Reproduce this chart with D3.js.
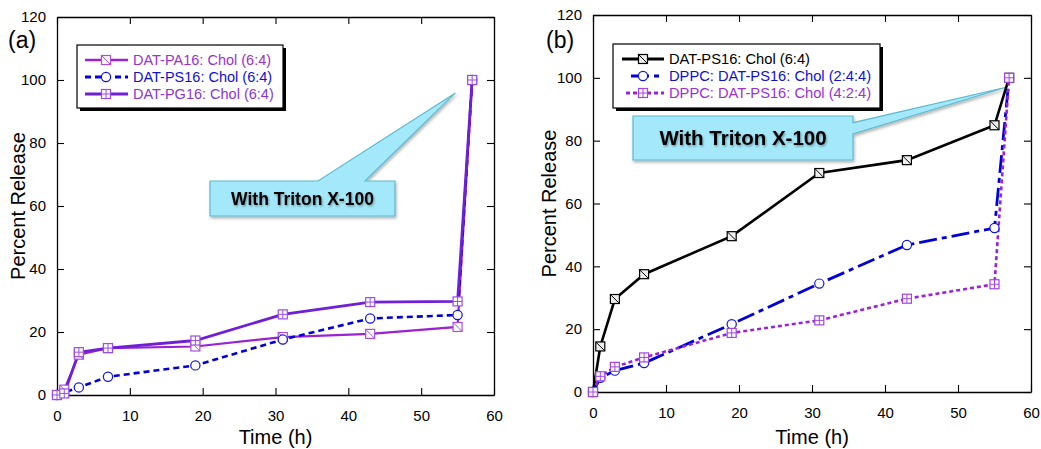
<!DOCTYPE html>
<html>
<head>
<meta charset="utf-8">
<script src="https://cdn.jsdelivr.net/npm/d3@7"></script>
<style>
  body { margin: 0; background: #fff; }
  text { font-family: "Liberation Sans", Arial, sans-serif; }
</style>
</head>
<body>
<svg id="chart" width="1041" height="449"></svg>
<script>
// time points (h)
var timeA = [0, 1, 3, 7, 19, 31, 43, 55, 57];
var timeA_PS = [0, 3, 7, 19, 31, 43, 55, 57];
var timeB = [0, 1, 3, 7, 19, 31, 43, 55, 57];

// panel (a) percent release
var pa16 = [0, 1.7, 12.8, 14.9, 15.4, 18.4, 19.4, 21.6, 100];
var ps16 = [0, 2.4, 5.8, 9.4, 17.6, 24.3, 25.4, 100];
var pg16 = [0, 0.5, 13.6, 14.9, 17.3, 25.6, 29.5, 29.7, 100];

// panel (b) percent release
var datPS16 = [0, 14.5, 29.6, 37.5, 49.6, 69.7, 73.8, 84.9, 100];
var dppc244 = [0, 4.5, 6.8, 9.2, 21.6, 34.5, 46.8, 52.2, 100];
var dppc424 = [0, 5.0, 8.0, 11.0, 18.8, 22.8, 29.7, 34.3, 100];

var xTicks = [0, 10, 20, 30, 40, 50, 60];
var yTicks = [0, 20, 40, 60, 80, 100, 120];

var svg = d3.select("#chart");

function zip(xs, ys) {
  return xs.map(function(x, i) { return {x: x, y: ys[i]}; });
}

function drawMarker(g, type, cx, cy, color, fill) {
  var s = 4.5;
  if (type === "circle") {
    g.append("circle").attr("cx", cx).attr("cy", cy).attr("r", 4.6)
      .attr("fill", "#fff").attr("stroke", color).attr("stroke-width", 1.2);
    return;
  }
  g.append("rect").attr("x", cx - s).attr("y", cy - s).attr("width", 2 * s).attr("height", 2 * s)
    .attr("fill", fill || "#fff").attr("stroke", color).attr("stroke-width", 1.2);
  if (type === "diag") {
    g.append("line").attr("x1", cx - s).attr("y1", cy - s).attr("x2", cx + s).attr("y2", cy + s)
      .attr("stroke", color).attr("stroke-width", 1);
  } else if (type === "plus") {
    g.append("line").attr("x1", cx).attr("y1", cy - s).attr("x2", cx).attr("y2", cy + s)
      .attr("stroke", color).attr("stroke-width", 1);
    g.append("line").attr("x1", cx - s).attr("y1", cy).attr("x2", cx + s).attr("y2", cy)
      .attr("stroke", color).attr("stroke-width", 1);
  }
}

function drawPanel(p) {
  var x = d3.scaleLinear().domain([0, 60]).range([p.left, p.right]);
  var y = d3.scaleLinear().domain([0, 120]).range([p.bottom, p.top]);
  var g = svg.append("g");

  // axes with inward ticks on all four sides
  g.append("g").attr("transform", "translate(" + p.left + ",0)")
    .call(d3.axisLeft(y).tickValues(yTicks).tickSizeInner(-7).tickSizeOuter(0).tickPadding(11));
  g.append("g").attr("transform", "translate(0," + p.bottom + ")")
    .call(d3.axisBottom(x).tickValues(xTicks).tickSizeInner(-7).tickSizeOuter(0).tickPadding(15));
  g.append("g").attr("transform", "translate(" + p.right + ",0)")
    .call(d3.axisRight(y).tickValues(yTicks).tickSizeInner(-7).tickSizeOuter(0).tickFormat(""));
  g.append("g").attr("transform", "translate(0," + p.top + ")")
    .call(d3.axisTop(x).tickValues(xTicks).tickSizeInner(-7).tickSizeOuter(0).tickFormat(""));
  g.selectAll(".domain").attr("stroke", "#000").attr("stroke-width", 1.3);
  g.selectAll(".tick line").attr("stroke", "#000").attr("stroke-width", 1.1);
  g.selectAll(".tick text").attr("fill", "#000").style("font-size", "15px")
    .style("font-family", "'Liberation Sans', Arial, sans-serif");

  // labels
  g.append("text").attr("x", (p.left + p.right) / 2).attr("y", 444)
    .attr("text-anchor", "middle").style("font-size", "20px").text("Time (h)");
  g.append("text").attr("transform", "translate(" + p.yLabelX + "," + ((p.top + p.bottom) / 2) + ") rotate(-90)")
    .attr("text-anchor", "middle").style("font-size", "20px").text("Percent Release");
  g.append("text").attr("x", p.tagX).attr("y", 48)
    .style("font-size", "23px").text(p.tag);

  // callout
  var tip = [x(p.tip[0]), y(p.tip[1])];
  var b = p.box;
  var pts;
  if (p.pointerSide === "top") {
    pts = [[b.x0, b.y0], [p.base[0], b.y0], tip, [p.base[1], b.y0], [b.x1, b.y0], [b.x1, b.y1], [b.x0, b.y1]];
  } else {
    pts = [[b.x0, b.y0], [b.x1, b.y0], [b.x1, p.base[0]], tip, [b.x1, p.base[1]], [b.x1, b.y1], [b.x0, b.y1]];
  }
  g.append("path").attr("d", "M" + pts.join("L") + "Z")
    .attr("fill", "#a4e9fb").attr("stroke", "#5cb9cf").attr("stroke-width", 1.2)
    .attr("filter", "url(#shadow)");
  g.append("text").attr("x", (b.x0 + b.x1) / 2).attr("y", (b.y0 + b.y1) / 2 + p.calloutSize * 0.36)
    .attr("text-anchor", "middle").style("font-size", p.calloutSize + "px").style("font-weight", "bold")
    .attr("filter", "url(#tshadow)").text("With Triton X-100");

  // series
  p.series.forEach(function(s) {
    var pts = zip(s.xs, s.ys);
    g.append("path").datum(pts)
      .attr("d", d3.line().x(function(d) { return x(d.x); }).y(function(d) { return y(d.y); }))
      .attr("fill", "none").attr("stroke", s.color).attr("stroke-width", s.width)
      .attr("stroke-dasharray", s.dash || null);
  });
  p.series.forEach(function(s) {
    zip(s.xs, s.ys).forEach(function(d) {
      drawMarker(g, s.marker, x(d.x), y(d.y), s.mcolor, s.mfill);
    });
  });

  // legend
  var L = p.legend;
  g.append("rect").attr("x", L.x + 3).attr("y", L.y + 3).attr("width", L.w).attr("height", L.h).attr("fill", "#000");
  g.append("rect").attr("x", L.x).attr("y", L.y).attr("width", L.w).attr("height", L.h)
    .attr("fill", "#fff").attr("stroke", "#000").attr("stroke-width", 1.2);
  p.series.forEach(function(s, i) {
    var ry = L.y + 15 + i * 17;
    g.append("line").attr("x1", s.legX0).attr("x2", L.lineX1).attr("y1", ry).attr("y2", ry)
      .attr("stroke", s.color).attr("stroke-width", s.width + 0.4).attr("stroke-dasharray", s.dash || null);
    drawMarker(g, s.marker, L.markX, ry, s.mcolor, s.mfill);
    g.append("text").attr("x", L.textX).attr("y", ry + 5).attr("fill", s.tcolor)
      .style("font-size", L.size + "px").text(s.name);
  });
}

var defs = svg.append("defs");
var f = defs.append("filter").attr("id", "shadow").attr("x", "-10%").attr("y", "-10%").attr("width", "130%").attr("height", "140%");
f.append("feDropShadow").attr("dx", 1).attr("dy", 2).attr("stdDeviation", 1.5).attr("flood-color", "#000").attr("flood-opacity", 0.3);
var tf = defs.append("filter").attr("id", "tshadow").attr("x", "-10%").attr("y", "-30%").attr("width", "130%").attr("height", "170%");
tf.append("feDropShadow").attr("dx", 1).attr("dy", 1.5).attr("stdDeviation", 1).attr("flood-color", "#000").attr("flood-opacity", 0.35);

drawPanel({
  left: 57, right: 494, top: 17, bottom: 395, yLabelX: 25, tagX: 8, tag: "(a)",
  tip: [54.7, 95.9], pointerSide: "top", base: [318, 365],
  box: {x0: 210, y0: 181, x1: 395, y1: 216}, calloutSize: 17.5,
  legend: {x: 77, y: 45, w: 206, h: 63, lineX1: 128, markX: 106, textX: 133, size: 14.5},
  series: [
    {name: "DAT-PA16: Chol (6:4)", xs: timeA, ys: pa16, color: "#9b22d2", width: 2.2, marker: "diag",
     mcolor: "#a94ee0", tcolor: "#9b30d0", legX0: 85},
    {name: "DAT-PS16: Chol (6:4)", xs: timeA_PS, ys: ps16, color: "#0000d8", width: 2.6, dash: "6,4", marker: "circle",
     mcolor: "#1010e0", tcolor: "#1010d0", legX0: 85},
    {name: "DAT-PG16: Chol (6:4)", xs: timeA, ys: pg16, color: "#6f1fd6", width: 2.8, marker: "plus",
     mcolor: "#9a4de6", tcolor: "#8a35d4", legX0: 85}
  ]
});

drawPanel({
  left: 593, right: 1031, top: 15, bottom: 392, yLabelX: 556, tagX: 546, tag: "(b)",
  tip: [56.6, 97], pointerSide: "right", base: [122.7, 134],
  box: {x0: 633, y0: 116, x1: 853, y1: 160}, calloutSize: 20.5,
  legend: {x: 613, y: 44, w: 267, h: 64, lineX1: 664, markX: 643, textX: 669, size: 14.7},
  series: [
    {name: "DAT-PS16: Chol (6:4)", xs: timeB, ys: datPS16, color: "#000", width: 2.6, marker: "diag",
     mcolor: "#000", mfill: "#eee", tcolor: "#000", legX0: 622},
    {name: "DPPC: DAT-PS16: Chol (2:4:4)", xs: timeB, ys: dppc244, color: "#0000d8", width: 2.8, dash: "18,5,5,5", marker: "circle",
     mcolor: "#1010e0", tcolor: "#1010d0", legX0: 631},
    {name: "DPPC: DAT-PS16: Chol (4:2:4)", xs: timeB, ys: dppc424, color: "#9b22d8", width: 2.6, dash: "4,3", marker: "plus",
     mcolor: "#a144e2", tcolor: "#9b30d4", legX0: 626}
  ]
});
</script>
</body>
</html>
